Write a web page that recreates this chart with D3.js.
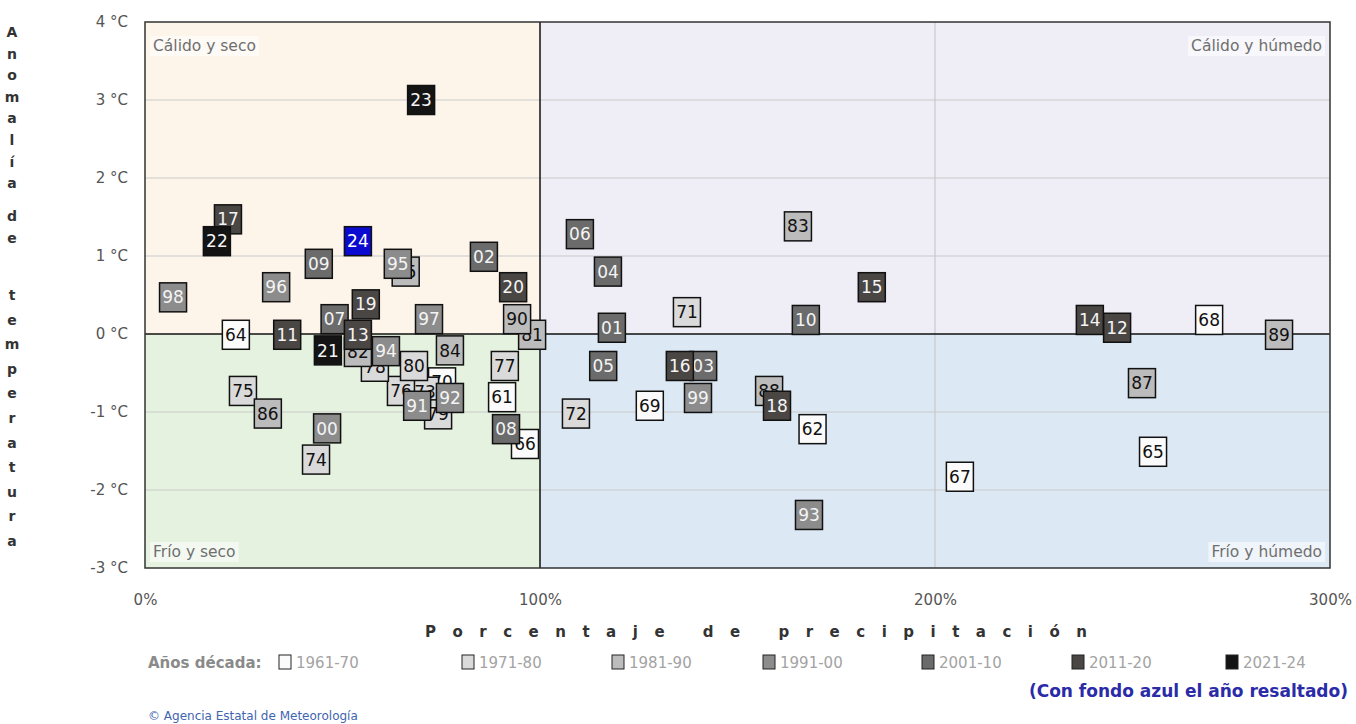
<!DOCTYPE html>
<html>
<head>
<meta charset="utf-8">
<script src="https://cdn.jsdelivr.net/npm/d3@7/dist/d3.min.js"></script>
<style>
  body { margin: 0; background: #fff; }
  svg { display: block; }
  text { font-family: "DejaVu Sans", Verdana, sans-serif; }
</style>
</head>
<body>
<svg id="chart" width="1356" height="724"></svg>
<script>
// ---- data (one entry per year, 1961 → 2024) ----
const years = [
  "61","62","63","64","65","66","67","68","69","70",
  "71","72","73","74","75","76","77","78","79","80",
  "81","82","83","84","85","86","87","88","89","90",
  "91","92","93","94","95","96","97","98","99","00",
  "01","02","03","04","05","06","07","08","09","10",
  "11","12","13","14","15","16","17","18","19","20",
  "21","22","23","24"];
const decadeOf = [
  "1961-70","1961-70","1961-70","1961-70","1961-70","1961-70","1961-70","1961-70","1961-70","1961-70",
  "1971-80","1971-80","1971-80","1971-80","1971-80","1971-80","1971-80","1971-80","1971-80","1971-80",
  "1981-90","1981-90","1981-90","1981-90","1981-90","1981-90","1981-90","1981-90","1981-90","1981-90",
  "1991-00","1991-00","1991-00","1991-00","1991-00","1991-00","1991-00","1991-00","1991-00","1991-00",
  "2001-10","2001-10","2001-10","2001-10","2001-10","2001-10","2001-10","2001-10","2001-10","2001-10",
  "2011-20","2011-20","2011-20","2011-20","2011-20","2011-20","2011-20","2011-20","2011-20","2011-20",
  "2021-24","2021-24","2021-24","2021-24"];
// precipitation, % of normal
const precip = [
  90.4, 169.0, 69.0, 23.0, 255.2, 96.2, 206.3, 269.4, 127.8, 75.2,
  137.2, 109.1, 70.9, 43.3, 24.8, 64.8, 91.1, 58.2, 74.2, 68.1,
  98.0, 53.9, 165.3, 77.2, 66.0, 31.1, 252.4, 158.0, 287.1, 94.2,
  68.9, 77.2, 168.1, 61.0, 64.0, 33.2, 71.9, 7.1, 140.0, 46.1,
  118.2, 85.8, 141.3, 117.2, 116.0, 110.1, 48.0, 91.4, 44.0, 167.3,
  36.0, 246.1, 53.9, 239.2, 184.0, 135.4, 21.0, 160.0, 55.9, 93.2,
  46.3, 18.2, 69.9, 53.9];
// temperature anomaly, °C
const anomaly = [
  -0.81, -1.22, -0.90, -0.01, -1.51, -1.41, -1.83, 0.18, -0.92, -0.62,
  0.28, -1.02, -0.74, -1.61, -0.73, -0.73, -0.41, -0.42, -1.03, -0.41,
  -0.01, -0.23, 1.38, -0.21, 0.80, -1.02, -0.63, -0.73, -0.01, 0.19,
  -0.92, -0.82, -2.32, -0.22, 0.90, 0.60, 0.19, 0.47, -0.82, -1.21,
  0.08, 0.99, -0.41, 0.80, -0.41, 1.28, 0.19, -1.22, 0.90, 0.18,
  -0.01, 0.08, -0.01, 0.18, 0.60, -0.41, 1.47, -0.92, 0.38, 0.60,
  -0.21, 1.19, 3.00, 1.19];
const highlightYear = "24";
const decades = ["1961-70","1971-80","1981-90","1991-00","2001-10","2011-20","2021-24"];
const decadeFill = ["#fbfbfb","#dadada","#bcbcbc","#8c8c8c","#6b6b6b","#4a4644","#141414"];
const decadeText = ["#111","#111","#111","#f4f4f4","#f4f4f4","#f4f4f4","#f4f4f4"];
const xTicks = [0,100,200,300];
const xTickLabels = ["0%","100%","200%","300%"];
const yTicks = [4,3,2,1,0,-1,-2,-3];
const yTickLabels = ["4 °C","3 °C","2 °C","1 °C","0 °C","-1 °C","-2 °C","-3 °C"];
const quadrants = [
  {x0:0,x1:100,y0:0,y1:4,fill:"#fdf4ea",label:"Cálido y seco",pos:"tl"},
  {x0:100,x1:300,y0:0,y1:4,fill:"#efeef7",label:"Cálido y húmedo",pos:"tr"},
  {x0:0,x1:100,y0:-3,y1:0,fill:"#e5f2df",label:"Frío y seco",pos:"bl"},
  {x0:100,x1:300,y0:-3,y1:0,fill:"#dce8f4",label:"Frío y húmedo",pos:"br"}
];
const yTitleWords = ["Anomalía","de","temperatura"];
const xTitle = "Porcentaje de precipitación";

// ---- chart ----
const svg = d3.select("#chart");
const L = 145, R = 1330, T = 22, B = 568;
const x = d3.scaleLinear().domain([0,300]).range([L,R]);
const y = d3.scaleLinear().domain([-3,4]).range([B,T]);

// quadrant backgrounds
svg.append("g").selectAll("rect").data(quadrants).join("rect")
  .attr("x", d => x(d.x0)).attr("y", d => y(d.y1))
  .attr("width", d => x(d.x1) - x(d.x0)).attr("height", d => y(d.y0) - y(d.y1))
  .attr("fill", d => d.fill);

// grid
svg.append("g").selectAll("line").data(yTicks.filter(v => v !== 0 && v !== 4 && v !== -3)).join("line")
  .attr("x1", L).attr("x2", R).attr("y1", d => y(d)).attr("y2", d => y(d))
  .attr("stroke", "#c9c9c9").attr("stroke-width", 1.2);
svg.append("line").attr("x1", x(200)).attr("x2", x(200)).attr("y1", T).attr("y2", B)
  .attr("stroke", "#c9c9c9").attr("stroke-width", 1.2);
svg.append("line").attr("x1", x(100)).attr("x2", x(100)).attr("y1", T).attr("y2", B)
  .attr("stroke", "#111").attr("stroke-width", 1.5);
svg.append("line").attr("x1", L).attr("x2", R).attr("y1", y(0)).attr("y2", y(0))
  .attr("stroke", "#111").attr("stroke-width", 1.5);

// quadrant labels
const ql = svg.append("g");
quadrants.forEach(q => {
  const left = q.pos[1] === "l";
  const top = q.pos[0] === "t";
  const tx = left ? L + 8 : R - 8;
  const ty = top ? T + 29 : B - 11;
  const t = ql.append("text").attr("x", tx).attr("y", ty)
    .attr("text-anchor", left ? "start" : "end")
    .attr("font-size", 15.5).attr("fill", "#6f6f6f").text(q.label);
  const bb = t.node().getBBox();
  ql.insert("rect", "text").attr("x", bb.x - 3).attr("y", bb.y - 1)
    .attr("width", bb.width + 6).attr("height", bb.height + 2)
    .attr("fill", "#ffffff").attr("opacity", 0.55);
});

// plot border
svg.append("rect").attr("x", L).attr("y", T).attr("width", R - L).attr("height", B - T)
  .attr("fill", "none").attr("stroke", "#333").attr("stroke-width", 1.5);

// axes
const yAxis = d3.axisLeft(y).tickValues(yTicks).tickSize(0).tickPadding(17)
  .tickFormat((d, i) => yTickLabels[i]);
const gy = svg.append("g").attr("transform", `translate(${L},0)`).call(yAxis);
gy.select(".domain").remove();
gy.selectAll("text").attr("font-size", 15).attr("fill", "#555").attr("font-family", "DejaVu Sans");

const xAxis = d3.axisBottom(x).tickValues(xTicks).tickSize(0).tickPadding(26)
  .tickFormat((d, i) => xTickLabels[i]);
const gx = svg.append("g").attr("transform", `translate(0,${B})`).call(xAxis);
gx.select(".domain").remove();
gx.selectAll("text").attr("font-size", 15).attr("fill", "#555").attr("font-family", "DejaVu Sans");

// y title: stacked letters
const wordStart = [37, 221, 300];
const wordStep = [21.6, 22, 24.6];
const yLetters = [];
yTitleWords.forEach((w, wi) => {
  w.split("").forEach((ch, ci) => yLetters.push({ch, y: wordStart[wi] + ci * wordStep[wi]}));
});
svg.append("g").selectAll("text").data(yLetters).join("text")
  .attr("x", 12).attr("y", d => d.y)
  .attr("text-anchor", "middle").attr("font-size", 14).attr("font-weight", "bold")
  .attr("fill", "#333").text(d => d.ch);

// x title (letter-spaced)
svg.append("text").attr("x", 425).attr("y", 637)
  .attr("textLength", 662).attr("lengthAdjust", "spacing")
  .attr("font-size", 15).attr("font-weight", "bold").attr("fill", "#333")
  .text(xTitle);

// points
const pts = years.map((yr, i) => ({yr, px: precip[i], an: anomaly[i], dec: decades.indexOf(decadeOf[i])}));
const BW = 27, BH = 29;
const g = svg.append("g").selectAll("g").data(pts).join("g")
  .attr("transform", d => `translate(${x(d.px)},${y(d.an)})`);
g.append("rect").attr("x", -BW/2).attr("y", -BH/2).attr("width", BW).attr("height", BH)
  .attr("fill", d => d.yr === highlightYear ? "#0a0ad0" : decadeFill[d.dec])
  .attr("stroke", "#111").attr("stroke-width", 1.5);
g.append("text").attr("text-anchor", "middle").attr("dy", "0.36em")
  .attr("font-size", 17).attr("font-family", "DejaVu Sans Condensed, DejaVu Sans")
  .attr("fill", d => d.yr === highlightYear ? "#fff" : decadeText[d.dec])
  .text(d => d.yr);

// legend
const leg = svg.append("g");
leg.append("text").attr("x", 148).attr("y", 668).attr("font-size", 15).attr("font-weight", "bold")
  .attr("fill", "#8a8a8a").text("Años década:");
const legX = [279, 462, 612, 763, 922, 1072, 1226];
decades.forEach((dname, i) => {
  leg.append("rect").attr("x", legX[i]).attr("y", 655).attr("width", 12).attr("height", 14)
    .attr("fill", decadeFill[i]).attr("stroke", "#222").attr("stroke-width", 1);
  leg.append("text").attr("x", legX[i] + 17).attr("y", 668).attr("font-size", 15)
    .attr("fill", "#a3a3a3").text(dname);
});
svg.append("text").attr("x", 1348).attr("y", 697).attr("text-anchor", "end")
  .attr("font-size", 17).attr("font-weight", "bold").attr("fill", "#2b2ba8")
  .text("(Con fondo azul el año resaltado)");
svg.append("text").attr("x", 148).attr("y", 720).attr("font-size", 12)
  .attr("fill", "#3f64b0").text("© Agencia Estatal de Meteorología");
</script>
</body>
</html>
